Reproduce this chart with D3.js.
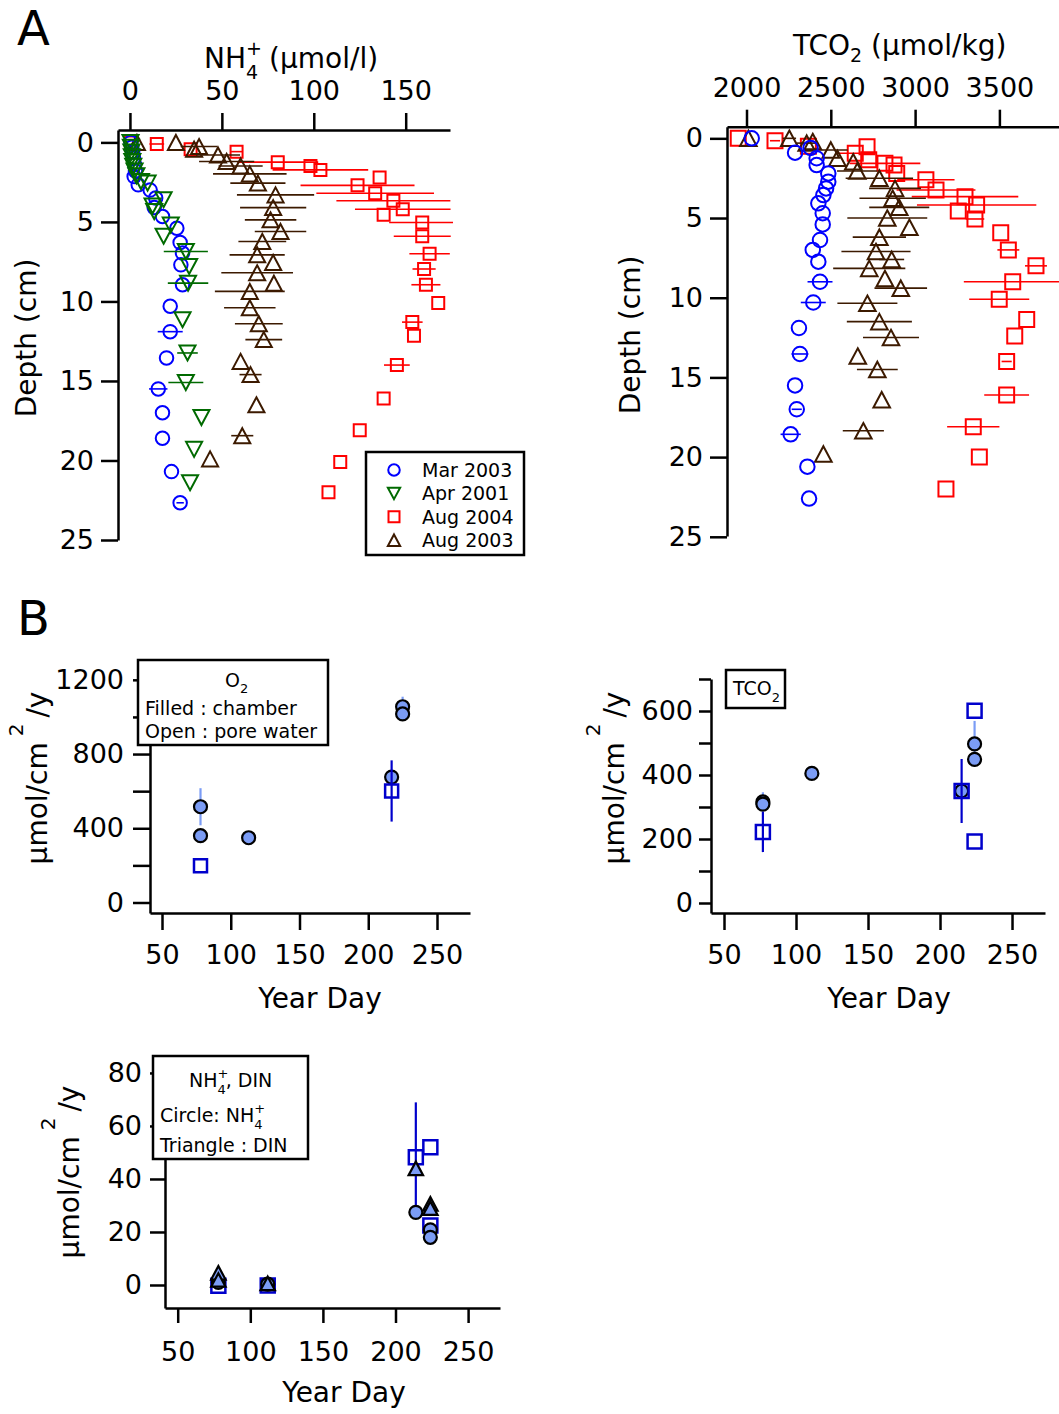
<!DOCTYPE html>
<html>
<head>
<meta charset="utf-8">
<script src="https://cdn.jsdelivr.net/npm/d3@7/dist/d3.min.js"></script>
<style>
  body { margin: 0; background: #fff; }
  svg text { font-family: "DejaVu Sans", Verdana, sans-serif; fill: #000; }
</style>
</head>
<body>
<svg id="chart" width="1059" height="1414"></svg>
<script>
// ---- panel A, NH4+ profiles : [depth cm, umol/l, +- err]
const nh4Mar2003 = [[0,0.5,0],[0.3,1,0],[0.6,1.5,0],[1.0,2,0],[1.4,2.5,0],[1.8,3,0],[2.15,2.3,0],[2.67,4.5,0],
  [3.0,11,0],[3.5,14,0],[4.1,13.2,0],[4.66,17.7,0],[5.4,25.5,0],[6.3,27.3,0],[6.96,28.6,0],[7.7,27.7,0],
  [8.95,28.6,0],[10.3,21.9,0],[11.9,21.9,6.8],[13.55,19.9,0],[15.5,15.4,5],[17.0,17.7,0],[18.6,17.7,0],
  [20.7,22.6,0],[22.66,27.3,2]];
const nh4Apr2001 = [[0,0.3,0],[0.3,0.5,0],[0.6,0.8,0],[0.9,1,0],[1.2,1.3,0],[1.5,1.8,0],[1.8,2.5,0],[2.1,3.5,0],
  [2.46,6,0],[2.56,9.6,0],[3.6,18.3,0],[4.0,12.3,0],[4.35,13.2,0],[5.2,22.2,0],[5.9,18.3,0],[6.86,30.4,12],
  [7.8,32.2,0],[8.85,31.6,11],[11.15,28.6,0],[13.24,31.3,5.6],[15.1,30.4,9.5],[17.3,38.9,0],[19.3,34.9,0],[21.4,32.7,0]];
const nh4Aug2004 = [[0,0.5,0],[0.1,14.6,4],[0.43,33,0],[0.58,58,3],[1.24,80.4,22],[1.48,98.2,0],[1.73,103.6,26],
  [2.2,135.8,0],[2.7,123.8,31],[3.2,133.4,32],[3.67,143.3,31],[4.2,148.4,26],[4.55,138,0],[5.04,159,18],
  [5.9,159,15.5],[7.0,163,11],[7.96,160,6.3],[8.95,161,7.9],[10.1,167.7,0],[11.3,153.6,5.6],[12.15,154.5,0],
  [14.0,145.2,7],[16.1,138,0],[18.1,125,0],[20.1,114.4,0],[22.0,108,0]];
const nh4Aug2003 = [[0,3.8,0],[0,25,0],[0.26,37.6,10],[0.43,34.9,0],[0.79,47.9,12],[1.2,52.6,15],[1.48,60.2,12],
  [1.98,65.2,20],[2.56,69.6,15],[3.3,79.2,21],[4.1,77.9,18],[4.87,76.5,14],[5.6,81.9,14],[6.23,72,13],
  [7.07,69.2,15],[7.55,77.9,0],[8.2,69.2,19.5],[8.85,78.3,0],[9.37,65.2,19],[10.4,65.2,14],[11.4,70.1,13],
  [12.4,72.8,10],[13.77,60.2,0],[14.6,65.6,6],[16.5,68.8,0],[18.44,61.1,6],[19.9,43.6,0]];

// ---- panel A, TCO2 profiles : [depth cm, umol/kg, +- err]
const tco2Mar2003 = [[0,2031,0],[0.6,2380,0],[0.9,2288,0],[1.25,2416,0],[1.68,2416,0],[2.2,2485,0],[2.72,2485,0],
  [3.14,2472,0],[3.56,2456,0],[4.08,2426,0],[4.7,2452,0],[5.4,2452,0],[6.38,2436,0],[7.0,2393,0],[7.74,2426,0],
  [9.0,2436,74],[10.3,2396,74],[11.9,2311,0],[13.53,2317,50],[15.5,2288,0],[17.0,2298,30],[18.57,2262,60],
  [20.6,2361,0],[22.6,2371,0]];
const tco2Aug2004 = [[0,1951,0],[0.15,2169,30],[0.5,2367,0],[0.53,2715,0],[0.94,2645,120],[1.35,2725,0],
  [1.57,2821,210],[1.68,2875,0],[2.2,2891,0],[2.6,3064,170],[3.24,3124,234],[3.66,3296,316],[4.18,3365,354],
  [4.56,3256,0],[5.06,3355,55],[5.92,3508,0],[7.0,3553,65],[8.0,3717,65],[9.0,3579,290],[10.1,3499,178],
  [11.36,3662,0],[12.4,3591,0],[14.0,3543,30],[16.1,3543,133],[18.1,3345,155],[20.0,3381,0],[22.0,3183,0]];
const tco2Aug2003 = [[0,2011,0],[0,2254,40],[0.3,2357,60],[0.2,2393,0],[0.73,2500,100],[1.25,2539,0],
  [1.47,2633,0],[2.05,2657,120],[2.5,2788,200],[3.14,2881,154],[3.76,2867,197],[4.33,2906,178],[5.0,2835,237],
  [5.58,2966,0],[6.2,2788,158],[7.1,2768,205],[7.6,2861,74],[8.16,2728,214],[8.8,2821,0],[9.4,2915,156],
  [10.35,2717,178],[11.5,2788,193],[12.5,2857,166],[13.66,2660,0],[14.5,2776,121],[16.4,2802,0],
  [18.35,2693,122],[19.8,2456,0]];

const legendNames = ["Mar 2003", "Apr 2001", "Aug 2004", "Aug 2003"];

// ---- panel B, fluxes (umol/cm2/y) vs year day
const o2ChamberDay = [78, 78, 113, 217, 225, 225];
const o2ChamberFlux = [516, 360, 349, 676, 1055, 1016];
const o2ChamberErr = [100, 0, 0, 0, 54, 0];
const o2PoreDay = [78, 217];
const o2PoreFlux = [198, 601];
const o2PoreErr = [0, 165];

const tco2ChamberDay = [77, 77, 111, 215, 224, 224];
const tco2ChamberFlux = [316, 309, 405, 350, 497, 449];
const tco2ChamberErr = [30, 0, 0, 0, 72, 0];
const tco2PoreDay = [77, 215, 224, 224];
const tco2PoreFlux = [222, 350, 601, 192];
const tco2PoreErr = [63, 100, 0, 0];

const nh4ChamberDay = [78, 112, 214, 224, 224];
const nh4ChamberFlux = [1, 0.3, 27.4, 20.8, 18];
const dinChamberDay = [78, 78, 112, 214, 224, 224];
const dinChamberFlux = [4.6, 1.9, 0.6, 44, 30.6, 29];
const dinPoreDay = [78, 112, 214, 224, 224];
const dinPoreFlux = [-0.3, -0.2, 48.2, 52, 22.4];
const dinPoreErr = [0, 0, 20.7, 0, 0];

const dayTicks = [50, 100, 150, 200, 250];
const depthTicks = [0, 5, 10, 15, 20, 25];

const blue = "#0000ff", green = "#006a00", red = "#ff0000", brown = "#3c1a00";
const fillBlue = "#7b9cf5", poreBlue = "#0000cc";

const svg = d3.select("#chart");

function markerPath(shape, s) {
  const h = s / 2;
  if (shape === "circle") return "M" + (-h) + ",0A" + h + "," + h + " 0 1,0 " + h + ",0A" + h + "," + h + " 0 1,0 " + (-h) + ",0Z";
  if (shape === "square") return "M" + (-h) + "," + (-h) + "H" + h + "V" + h + "H" + (-h) + "Z";
  const w = h * 1.07;
  if (shape === "up") return "M0," + (-h) + "L" + w + "," + h + "L" + (-w) + "," + h + "Z";
  return "M0," + h + "L" + w + "," + (-h) + "L" + (-w) + "," + (-h) + "Z";
}

function styleAxis(g, fs) {
  g.attr("font-family", "DejaVu Sans").attr("font-size", fs);
  g.select(".domain").attr("stroke", "#000").attr("stroke-width", 2.5);
  g.selectAll(".tick line").attr("stroke", "#000").attr("stroke-width", 2.5);
  g.selectAll(".tick text").attr("fill", "#000");
}

// profile: horizontal error bars, then open markers
function drawProfile(g, x, y, data, color, shape, size) {
  g.selectAll(null)
    .data(data.filter(function(d) { return d[2] > 0; }))
    .enter()
    .append("line")
    .attr("x1", function(d) { return x(d[1] - d[2]); })
    .attr("x2", function(d) { return x(d[1] + d[2]); })
    .attr("y1", function(d) { return y(d[0]); })
    .attr("y2", function(d) { return y(d[0]); })
    .attr("stroke", color)
    .attr("stroke-width", 1.6);
  g.selectAll(null)
    .data(data)
    .enter()
    .append("path")
    .attr("transform", function(d) { return "translate(" + x(d[1]) + "," + y(d[0]) + ")"; })
    .attr("d", markerPath(shape, size))
    .attr("fill", "none")
    .attr("stroke", color)
    .attr("stroke-width", 2);
}

// flux points: vertical error bars then markers
function drawFlux(g, x, y, days, vals, errs, opts) {
  const pts = days.map(function(d, i) { return { day: d, v: vals[i], e: errs ? errs[i] : 0 }; });
  g.selectAll(null)
    .data(pts.filter(function(d) { return d.e > 0; }))
    .enter()
    .append("line")
    .attr("x1", function(d) { return x(d.day); })
    .attr("x2", function(d) { return x(d.day); })
    .attr("y1", function(d) { return y(d.v - d.e); })
    .attr("y2", function(d) { return y(d.v + d.e); })
    .attr("stroke", opts.errColor)
    .attr("stroke-width", 2.2);
  g.selectAll(null)
    .data(pts)
    .enter()
    .append("path")
    .attr("transform", function(d) { return "translate(" + x(d.day) + "," + y(d.v) + ")"; })
    .attr("d", markerPath(opts.shape, opts.size))
    .attr("fill", opts.fill)
    .attr("stroke", opts.stroke)
    .attr("stroke-width", opts.sw);
}

// ================= A : NH4 profile =================
const xA1 = d3.scaleLinear().domain([-6.5, 174.1]).range([118, 450]);
const yA1 = d3.scaleLinear().domain([-0.78, 25]).range([130, 540]);

svg.append("clipPath").attr("id", "clipA1").append("rect").attr("x", 118).attr("y", 125).attr("width", 335).attr("height", 420);
const gA1 = svg.append("g").attr("clip-path", "url(#clipA1)");
drawProfile(gA1, xA1, yA1, nh4Aug2004, red, "square", 12);
drawProfile(gA1, xA1, yA1, nh4Aug2003, brown, "up", 15);
drawProfile(gA1, xA1, yA1, nh4Mar2003, blue, "circle", 13.5);
drawProfile(gA1, xA1, yA1, nh4Apr2001, green, "down", 15);

svg.append("g").attr("transform", "translate(0,130)")
  .call(d3.axisTop(xA1).tickValues([0, 50, 100, 150]).tickSize(17).tickSizeOuter(0).tickPadding(13))
  .call(styleAxis, 27);
svg.append("g").attr("transform", "translate(118,0)")
  .call(d3.axisLeft(yA1).tickValues(depthTicks).tickSize(17).tickSizeOuter(0).tickPadding(7))
  .call(styleAxis, 27);

const tA1 = svg.append("text").attr("x", 204).attr("y", 68).attr("font-size", 28);
tA1.append("tspan").text("NH");
tA1.append("tspan").attr("font-size", 19).attr("dy", -13).text("+");
tA1.append("tspan").attr("font-size", 19).attr("dx", -15.9).attr("dy", 24).text("4");
tA1.append("tspan").attr("dx", 11).attr("dy", -11).text("(μmol/l)");

svg.append("text").attr("transform", "translate(36,338) rotate(-90)")
  .attr("text-anchor", "middle").attr("font-size", 28).text("Depth (cm)");

// legend
const lg = svg.append("g");
lg.append("rect").attr("x", 366).attr("y", 452).attr("width", 158).attr("height", 103)
  .attr("fill", "#fff").attr("stroke", "#000").attr("stroke-width", 2.5);
const lgColors = [blue, green, red, brown];
const lgShapes = ["circle", "down", "square", "up"];
legendNames.forEach(function(name, i) {
  const cy = 470 + i * 23.4;
  lg.append("path").attr("transform", "translate(394," + cy + ")")
    .attr("d", markerPath(lgShapes[i], i === 2 ? 11 : 11.5))
    .attr("fill", "none").attr("stroke", lgColors[i]).attr("stroke-width", 2);
  lg.append("text").attr("x", 422).attr("y", cy + 7).attr("font-size", 19).text(name);
});

// ================= A : TCO2 profile =================
const xA2 = d3.scaleLinear().domain([1884.3, 3853.5]).range([727, 1059]);
const yA2 = d3.scaleLinear().domain([-0.73, 24.95]).range([126.7, 536]);

svg.append("clipPath").attr("id", "clipA2").append("rect").attr("x", 727).attr("y", 120).attr("width", 332).attr("height", 420);
const gA2 = svg.append("g").attr("clip-path", "url(#clipA2)");
drawProfile(gA2, xA2, yA2, tco2Aug2004, red, "square", 15);
drawProfile(gA2, xA2, yA2, tco2Aug2003, brown, "up", 15.5);
drawProfile(gA2, xA2, yA2, tco2Mar2003, blue, "circle", 14.5);

svg.append("g").attr("transform", "translate(0,126.7)")
  .call(d3.axisTop(xA2).tickValues([2000, 2500, 3000, 3500]).tickFormat(d3.format("d"))
    .tickSize(17).tickSizeOuter(0).tickPadding(13))
  .call(styleAxis, 27);
svg.append("g").attr("transform", "translate(727,0)")
  .call(d3.axisLeft(yA2).tickValues(depthTicks).tickSize(17).tickSizeOuter(0).tickPadding(7))
  .call(styleAxis, 27);

const tA2 = svg.append("text").attr("x", 793).attr("y", 55).attr("font-size", 28);
tA2.append("tspan").text("TCO");
tA2.append("tspan").attr("font-size", 19).attr("dy", 7).text("2");
tA2.append("tspan").attr("dy", -7).text(" (μmol/kg)");

svg.append("text").attr("transform", "translate(640,335) rotate(-90)")
  .attr("text-anchor", "middle").attr("font-size", 28).text("Depth (cm)");

svg.append("text").attr("x", 17).attr("y", 45).attr("font-size", 48).text("A");
svg.append("text").attr("x", 17).attr("y", 635).attr("font-size", 48).text("B");

function yFluxLabel(x, y) {
  const t = svg.append("text").attr("transform", "translate(" + x + "," + y + ") rotate(-90)")
    .attr("text-anchor", "middle").attr("font-size", 28);
  t.append("tspan").text("μmol/cm");
  t.append("tspan").attr("font-size", 20).attr("dy", -24).attr("dx", 6).text("2");
  t.append("tspan").attr("dy", 24).attr("dx", 6).text("/y");
}

// ================= B : O2 =================
const xB1 = d3.scaleLinear().domain([41.27, 274]).range([150, 470]);
const yB1 = d3.scaleLinear().domain([-56.6, 1226]).range([913, 675]);

svg.append("g").attr("transform", "translate(0,913)")
  .call(d3.axisBottom(xB1).tickValues(dayTicks).tickSize(17).tickSizeOuter(0).tickPadding(15))
  .call(styleAxis, 27);
svg.append("g").attr("transform", "translate(150,0)")
  .call(d3.axisLeft(yB1).tickValues(d3.range(0, 1201, 200)).tickSize(17).tickSizeOuter(0).tickPadding(9)
    .tickFormat(function(d) { return d % 400 === 0 ? d : ""; }))
  .call(styleAxis, 27);

const gB1 = svg.append("g");
drawFlux(gB1, xB1, yB1, o2ChamberDay, o2ChamberFlux, o2ChamberErr,
  { shape: "circle", size: 13, fill: fillBlue, stroke: "#000", sw: 2.2, errColor: fillBlue });
drawFlux(gB1, xB1, yB1, o2PoreDay, o2PoreFlux, o2PoreErr,
  { shape: "square", size: 13, fill: "none", stroke: poreBlue, sw: 2.5, errColor: poreBlue });

const lb1 = svg.append("g");
lb1.append("rect").attr("x", 138).attr("y", 660).attr("width", 190).attr("height", 85)
  .attr("fill", "#fff").attr("stroke", "#000").attr("stroke-width", 2.5);
const o2t = lb1.append("text").attr("x", 225).attr("y", 687).attr("font-size", 19);
o2t.append("tspan").text("O");
o2t.append("tspan").attr("font-size", 13).attr("dy", 6).text("2");
lb1.append("text").attr("x", 145).attr("y", 715).attr("font-size", 19).text("Filled : chamber");
lb1.append("text").attr("x", 145).attr("y", 738).attr("font-size", 19).text("Open : pore water");

yFluxLabel(47, 778);
svg.append("text").attr("x", 320).attr("y", 1008).attr("text-anchor", "middle").attr("font-size", 28).text("Year Day");

// ================= B : TCO2 =================
const xB2 = d3.scaleLinear().domain([40.97, 272.9]).range([711, 1045]);
const yB2 = d3.scaleLinear().domain([-31.25, 700]).range([913, 679]);

svg.append("g").attr("transform", "translate(0,913)")
  .call(d3.axisBottom(xB2).tickValues(dayTicks).tickSize(17).tickSizeOuter(0).tickPadding(15))
  .call(styleAxis, 27);
svg.append("g").attr("transform", "translate(711,0)")
  .call(d3.axisLeft(yB2).tickValues(d3.range(0, 701, 100)).tickSize(12).tickSizeOuter(0).tickPadding(6)
    .tickFormat(function(d) { return d % 200 === 0 ? d : ""; }))
  .call(styleAxis, 27);

const gB2 = svg.append("g");
drawFlux(gB2, xB2, yB2, tco2ChamberDay, tco2ChamberFlux, tco2ChamberErr,
  { shape: "circle", size: 13, fill: fillBlue, stroke: "#000", sw: 2.2, errColor: fillBlue });
drawFlux(gB2, xB2, yB2, tco2PoreDay, tco2PoreFlux, tco2PoreErr,
  { shape: "square", size: 14, fill: "none", stroke: poreBlue, sw: 2.5, errColor: poreBlue });

const lb2 = svg.append("g");
lb2.append("rect").attr("x", 726).attr("y", 670).attr("width", 59).attr("height", 38)
  .attr("fill", "#fff").attr("stroke", "#000").attr("stroke-width", 2.5);
const tct = lb2.append("text").attr("x", 733).attr("y", 695).attr("font-size", 19);
tct.append("tspan").text("TCO");
tct.append("tspan").attr("font-size", 13).attr("dy", 7).text("2");

yFluxLabel(624, 778);
svg.append("text").attr("x", 889).attr("y", 1008).attr("text-anchor", "middle").attr("font-size", 28).text("Year Day");

// ================= B : NH4, DIN =================
const xB3 = d3.scaleLinear().domain([41.25, 271.97]).range([165, 500]);
const yB3 = d3.scaleLinear().domain([-8.68, 83]).range([1308, 1065]);

svg.append("g").attr("transform", "translate(0,1308)")
  .call(d3.axisBottom(xB3).tickValues(dayTicks).tickSize(15).tickSizeOuter(0).tickPadding(19))
  .call(styleAxis, 27);
svg.append("g").attr("transform", "translate(165,0)")
  .call(d3.axisLeft(yB3).tickValues([0, 20, 40, 60, 80]).tickSize(15).tickSizeOuter(0).tickPadding(8))
  .call(styleAxis, 27);

const gB3 = svg.append("g");
drawFlux(gB3, xB3, yB3, dinPoreDay, dinPoreFlux, dinPoreErr,
  { shape: "square", size: 14, fill: "none", stroke: poreBlue, sw: 2.5, errColor: poreBlue });
drawFlux(gB3, xB3, yB3, nh4ChamberDay, nh4ChamberFlux, null,
  { shape: "circle", size: 13, fill: fillBlue, stroke: "#000", sw: 2.2, errColor: fillBlue });
drawFlux(gB3, xB3, yB3, dinChamberDay, dinChamberFlux, null,
  { shape: "up", size: 13.5, fill: fillBlue, stroke: "#000", sw: 2.2, errColor: fillBlue });

const lb3 = svg.append("g");
lb3.append("rect").attr("x", 153).attr("y", 1056).attr("width", 155).attr("height", 103)
  .attr("fill", "#fff").attr("stroke", "#000").attr("stroke-width", 2.5);
const nt = lb3.append("text").attr("x", 189).attr("y", 1087).attr("font-size", 19);
nt.append("tspan").text("NH");
nt.append("tspan").attr("font-size", 13).attr("dy", -9).text("+");
nt.append("tspan").attr("font-size", 13).attr("dx", -10.9).attr("dy", 16).text("4");
nt.append("tspan").attr("dy", -7).text(", DIN");
const ct = lb3.append("text").attr("x", 160).attr("y", 1122).attr("font-size", 19);
ct.append("tspan").text("Circle: NH");
ct.append("tspan").attr("font-size", 13).attr("dy", -9).text("+");
ct.append("tspan").attr("font-size", 13).attr("dx", -10.9).attr("dy", 16).text("4");
lb3.append("text").attr("x", 160).attr("y", 1152).attr("font-size", 19).text("Triangle : DIN");

yFluxLabel(79, 1172);
svg.append("text").attr("x", 344).attr("y", 1402).attr("text-anchor", "middle").attr("font-size", 28).text("Year Day");
</script>
</body>
</html>
